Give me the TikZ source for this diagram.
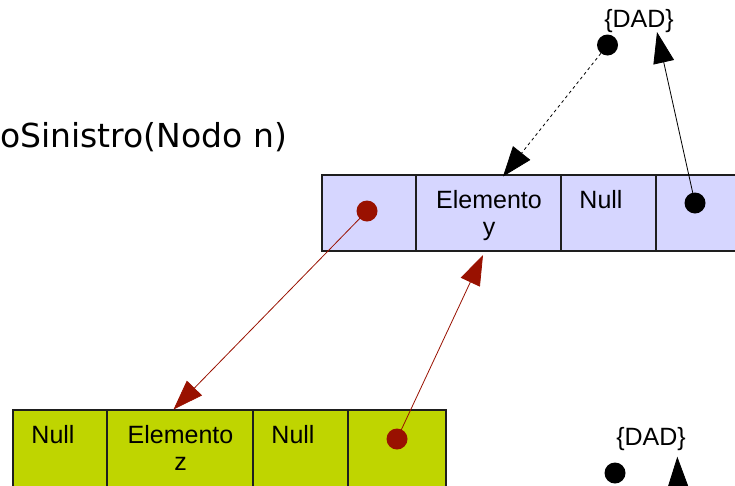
\documentclass[tikz,border=0pt]{standalone}
\usepackage{fontspec}
\setmainfont{Liberation Sans}
\newfontfamily\titlefont{DejaVu Sans}
\usetikzlibrary{arrows.meta}
\definecolor{topfill}{RGB}{214,214,255}
\definecolor{botfill}{RGB}{191,213,0}
\definecolor{ptrred}{RGB}{153,17,0}
\definecolor{edgegray}{RGB}{30,30,30}
\tikzset{
  cellA/.style={draw=edgegray, line width=1.2pt, fill=topfill, minimum height=76pt, inner sep=0pt},
  cellB/.style={draw=edgegray, line width=1.2pt, fill=botfill, minimum height=84pt, inner sep=0pt},
  lbl/.style={font=\fontsize{25}{27}\selectfont, inner sep=0pt, align=center, anchor=base},
  reddot/.style={circle, fill=ptrred, minimum size=21pt, inner sep=0pt},
  blackdot/.style={circle, fill=black, minimum size=21pt, inner sep=0pt},
  redarrow/.style={draw=ptrred, line width=0.8pt, -{Triangle[length=30pt,width=21pt]}, ptrred},
  blackarrow/.style={draw=black, line width=0.8pt, -{Triangle[length=31pt,width=21pt]}},
  dasharrow/.style={draw=black, line width=0.8pt, dash pattern=on 3pt off 3pt, -{Triangle[length=30pt,width=22pt,sep=0pt]}},
}
\begin{document}
\begin{tikzpicture}[x=1pt,y=-1pt]
\useasboundingbox (0,0) rectangle (735,485);
\clip (0,0) rectangle (735,485);
\fill[white] (0,0) rectangle (735,485);

% title
\node[font=\titlefont\fontsize{33}{38}\selectfont, anchor=base west, inner sep=0pt] (title) at (0,147) {oSinistro(Nodo n)};

% top structure
\node[cellA, minimum width=94pt] (t1) at (369,213) {};
\node[cellA, minimum width=145pt] (t2) at (488.5,213) {};
\node[cellA, minimum width=95pt] (t3) at (608.5,213) {};
\node[cellA, minimum width=95pt] (t4) at (703.5,213) {};
\node[lbl] (t2l) at (489,235) {Elemento\\y};
\node[lbl] (t3l) at (601,208) {Null};
\node[reddot] (td1) at (367,211) {};
\node[blackdot] (td4) at (695,203) {};

% bottom structure
\node[cellB, minimum width=94pt] (b1) at (60,452) {};
\node[cellB, minimum width=146pt] (b2) at (180,452) {};
\node[cellB, minimum width=95pt] (b3) at (300.5,452) {};
\node[cellB, minimum width=98pt] (b4) at (397,452) {};
\node[lbl] (b1l) at (53,443) {Null};
\node[lbl] (b2l) at (180.5,470) {Elemento\\z};
\node[lbl] (b3l) at (293,443) {Null};
\node[reddot] (bd4) at (397,439) {};

% DAD labels and dots
\node[lbl] (dad1) at (639,27) {\{DAD\}};
\node[blackdot] (dd1) at (607.5,45) {};
\node[lbl] (dad2) at (651,445) {\{DAD\}};
\node[blackdot] (dd2) at (615,473) {};

% tips
\coordinate (tipT2) at (503,176.5);
\coordinate (tipDad) at (657,32);
\coordinate (tipB2) at (173.5,409.5);
\coordinate (tipT2b) at (483,255);
\coordinate (tipDad2) at (677.3,456.7);
\coordinate (below) at (681,600);

% connectors
\draw[dasharrow] (dd1) -- (tipT2);
\draw[blackarrow] (td4.center) -- (tipDad);
\draw[redarrow] (td1.center) -- (tipB2);
\draw[redarrow] (bd4.center) -- (tipT2b);
\draw[blackarrow] (below) -- (tipDad2);
\end{tikzpicture}
\end{document}
